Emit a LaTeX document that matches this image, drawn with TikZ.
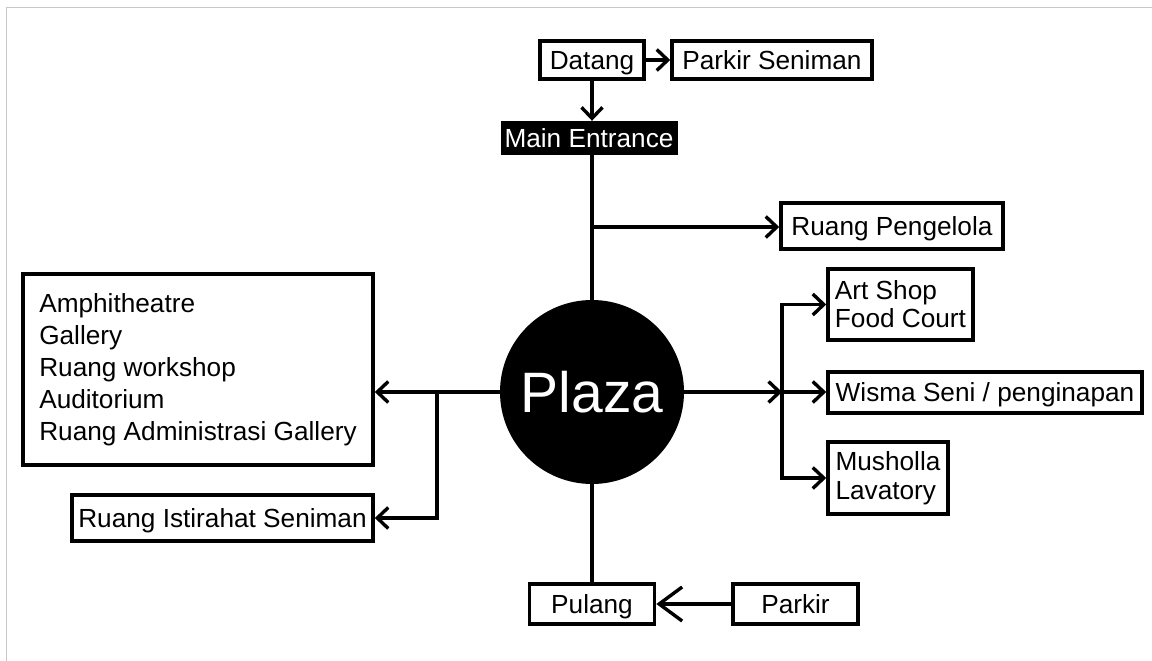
\documentclass[tikz,border=0pt]{standalone}
\usepackage{fontspec}
\setmainfont{Liberation Sans}
\usetikzlibrary{arrows.meta}
\begin{document}
\begin{tikzpicture}[x=1pt,y=-1pt,
  lbl/.style={font=\fontsize{26.2}{30}\selectfont},
  box/.style={draw, line width=3.6pt, inner sep=0pt, lbl},
  one/.style={text height=18.8pt, text depth=0pt},
  conn/.style={line width=3.4pt},
  arr/.style={conn, -{Straight Barb[length=11pt,width=21pt,line width=3.4pt]}},
  bigarr/.style={conn, -{Straight Barb[length=23pt,width=34pt,line width=3.4pt]}}]
\useasboundingbox (0,0) rectangle (1152,661);
\draw[black!22, line width=1.5pt] (6.5,661) -- (6.5,7.5) -- (1152,7.5);

% nodes
\node[box, one, minimum width=104pt, minimum height=38pt] (datang) at (592,60) {Datang};
\node[box, one, minimum width=200pt, minimum height=38pt] (parkirsen) at (772,60) {Parkir Seniman};
\node[fill=black, text=white, lbl, one, inner sep=0pt, minimum width=177pt, minimum height=34pt] (main) at (589,138) {Main Entrance};
\node[box, one, minimum width=222pt, minimum height=46pt] (pengelola) at (892,226) {Ruang Pengelola};
\node[circle, fill=black, text=white, minimum size=184pt, inner sep=0pt, font=\fontsize{57}{60}\selectfont] (plaza) at (592,392) {Plaza};
\node[box, minimum width=350pt, minimum height=191pt, align=left, font=\fontsize{26.2}{32}\selectfont] (bigbox) at (198,369.5)
  {Amphitheatre\\Gallery\\Ruang workshop\\Auditorium\\Ruang Administrasi Gallery};
\node[box, one, minimum width=301pt, minimum height=46pt] (istirahat) at (222.5,518) {Ruang Istirahat Seniman};
\node[box, minimum width=145pt, minimum height=71pt, align=left, font=\fontsize{26.2}{28}\selectfont] (artshop) at (900.5,304.5) {Art Shop\\Food Court};
\node[box, one, minimum width=314pt, minimum height=41pt] (wisma) at (985,392.5) {Wisma Seni / penginapan};
\node[box, minimum width=120pt, minimum height=72pt, align=left, font=\fontsize{26.2}{29}\selectfont] (musholla) at (888,478) {Musholla\\Lavatory};
\node[box, one, minimum width=125pt, minimum height=40pt] (pulang) at (592,604) {Pulang};
\node[box, one, minimum width=125pt, minimum height=40pt] (parkir) at (795.5,604) {Parkir};

\coordinate (jtop) at (592,227);
\coordinate (jl) at (437,392);
\coordinate (jr) at (782,392);

% connectors
\draw[arr] (datang.east) -- (parkirsen.west);
\draw[arr] (datang.south) -- (datang.south |- main.north);
\draw[conn] (plaza.north) -- (plaza.north |- main.south);
\draw[arr] (jtop) -- (jtop -| pengelola.west);
\draw[arr] (plaza.west) -- (plaza.west -| bigbox.east);
\draw[arr] (jl) |- (istirahat.east);
\draw[arr] (plaza.east) -- (jr);
\draw[arr] (jr) -- (jr -| wisma.west);
\draw[arr] (jr) |- (artshop.west);
\draw[arr] (jr) |- (musholla.west);
\draw[conn] (plaza.south) -- (pulang.north);
\draw[bigarr] (parkir.west) -- (pulang.east);
\end{tikzpicture}
\end{document}
